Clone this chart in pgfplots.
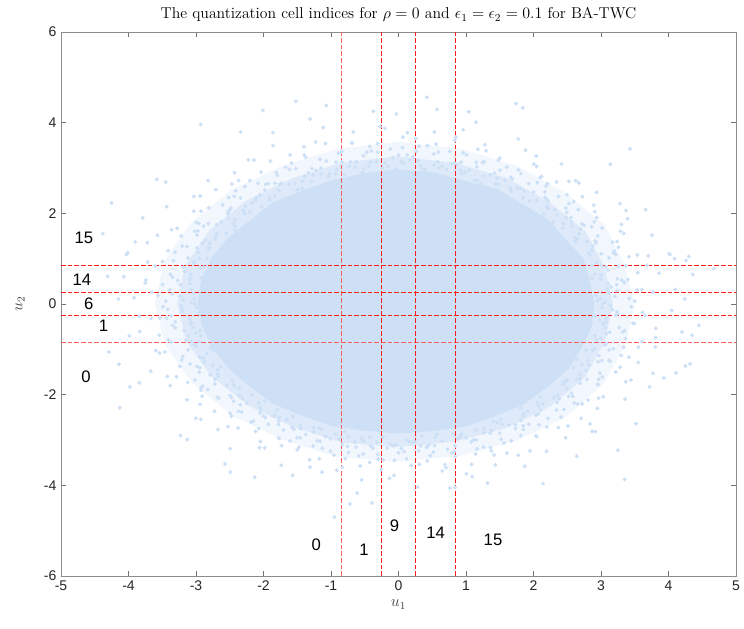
\documentclass[border=0pt]{standalone}
\usepackage{fontspec}
\usepackage{pgfplots}
\pgfplotsset{compat=1.18}
\newfontfamily\sans{Liberation Sans}
\definecolor{cloud}{RGB}{205,224,246}
\definecolor{qred}{RGB}{255,25,25}
\definecolor{qpink}{RGB}{255,95,95}
\begin{document}
\begin{tikzpicture}
\begin{axis}[
  scale only axis, width=506.25pt, height=408pt,
  xmin=-5, xmax=5, ymin=-6, ymax=6,
  xtick={-5,-4,...,5}, ytick={-6,-4,...,6},
  tick align=inside, major tick length=3.5pt,
  axis line style={draw=black!45, line width=0.6pt},
  major tick style={draw=black!55, line width=0.6pt},
  /pgf/number format/assume math mode=true,
  ticklabel style={font=\sans\fontsize{10.5}{12}\selectfont, text=black!85},
  title={The quantization cell indices for $\rho = 0$ and $\epsilon_1 = \epsilon_2 = 0.1$ for BA-TWC},
  title style={font=\fontsize{11.8}{13}\selectfont, yshift=-2pt},
  xlabel={$u_1$}, ylabel={$u_2$},
  label style={font=\fontsize{12}{14}\selectfont, text=black!75},
  ylabel style={yshift=7.5pt},
  clip=true,
  unbounded coords=jump,
  cloudpts/.style={only marks, mark=*, mark size=1.3pt, draw=cloud, fill=cloud, mark options={draw=cloud, fill=cloud}},
]
% outer halo of the sample cloud
\addplot[draw=none, fill=cloud, fill opacity=0.25, data cs=polar] coordinates {
 (0,3.50) (15,3.46) (30,3.52) (45,3.48) (60,3.52) (75,3.55) (90,3.58) (105,3.54) (120,3.50) (135,3.53)
 (150,3.56) (165,3.60) (180,3.61) (195,3.57) (210,3.52) (225,3.48) (240,3.46) (255,3.49) (270,3.48)
 (285,3.47) (300,3.49) (315,3.52) (330,3.51) (345,3.48)} -- cycle;
\addplot[draw=none, fill=cloud, fill opacity=0.55, data cs=polar] coordinates {
 (0,3.18) (15,3.16) (30,3.20) (45,3.17) (60,3.21) (75,3.22) (90,3.26) (105,3.23) (120,3.19) (135,3.21)
 (150,3.24) (165,3.27) (180,3.28) (195,3.25) (210,3.20) (225,3.16) (240,3.14) (255,3.17) (270,3.16)
 (285,3.15) (300,3.17) (315,3.19) (330,3.20) (345,3.17)} -- cycle;
% dense core of the sample cloud
\addplot[draw=none, fill=cloud, data cs=polar] coordinates {
 (0,2.90) (10,2.88) (20,2.92) (30,2.86) (40,2.90) (50,2.87) (60,2.93) (70,2.89) (80,2.95) (90,2.97)
 (100,2.93) (110,2.90) (120,2.88) (130,2.91) (140,2.87) (150,2.92) (160,2.95) (170,2.97) (180,2.98)
 (190,2.95) (200,2.92) (210,2.89) (220,2.86) (230,2.88) (240,2.85) (250,2.87) (260,2.84) (270,2.86)
 (280,2.85) (290,2.88) (300,2.86) (310,2.89) (320,2.87) (330,2.90) (340,2.88) (350,2.91)} -- cycle;
% fringe samples (angle in degrees, radius)
\addplot[cloudpts, data cs=polar] coordinates {
 (0,3.02) (3,3.21) (6,3.11) (9,3.35) (12,3.07) (15,3.18) (18,3.28) (21,3.04) (24,3.15) (27,3.31) (30,3.09) (33,3.24)
 (36,3.02) (39,3.21) (42,3.11) (45,3.35) (48,3.07) (51,3.18) (54,3.28) (57,3.04) (60,3.15) (63,3.31) (66,3.09) (69,3.24)
 (72,3.02) (75,3.21) (78,3.11) (81,3.35) (84,3.07) (87,3.18) (90,3.28) (93,3.04) (96,3.15) (99,3.31) (102,3.09) (105,3.24)
 (108,3.02) (111,3.21) (114,3.11) (117,3.35) (120,3.07) (123,3.18) (126,3.28) (129,3.04) (132,3.15) (135,3.31) (138,3.09) (141,3.24)
 (144,3.02) (147,3.21) (150,3.11) (153,3.35) (156,3.07) (159,3.18) (162,3.28) (165,3.04) (168,3.15) (171,3.31) (174,3.09) (177,3.24)
 (180,3.02) (183,3.21) (186,3.11) (189,3.35) (192,3.07) (195,3.18) (198,3.28) (201,3.04) (204,3.15) (207,3.31) (210,3.09) (213,3.24)
 (216,3.02) (219,3.21) (222,3.11) (225,3.35) (228,3.07) (231,3.18) (234,3.28) (237,3.04) (240,3.15) (243,3.31) (246,3.09) (249,3.24)
 (252,3.02) (255,3.21) (258,3.11) (261,3.35) (264,3.07) (267,3.18) (270,3.28) (273,3.04) (276,3.15) (279,3.31) (282,3.09) (285,3.24)
 (288,3.02) (291,3.21) (294,3.11) (297,3.35) (300,3.07) (303,3.18) (306,3.28) (309,3.04) (312,3.15) (315,3.31) (318,3.09) (321,3.24)
 (324,3.02) (327,3.21) (330,3.11) (333,3.35) (336,3.07) (339,3.18) (342,3.28) (345,3.04) (348,3.15) (351,3.31) (354,3.09) (357,3.24)
 (1.5,2.95) (4.5,3.13) (7.5,3.26) (10.5,3.05) (13.5,3.19) (16.5,2.99) (19.5,3.38) (22.5,3.10) (25.5,3.23) (28.5,3.01) (31.5,3.16)
 (34.5,2.95) (37.5,3.13) (40.5,3.26) (43.5,3.05) (46.5,3.19) (49.5,2.99) (52.5,3.38) (55.5,3.10) (58.5,3.23) (61.5,3.01) (64.5,3.16)
 (67.5,2.95) (70.5,3.13) (73.5,3.26) (76.5,3.05) (79.5,3.19) (82.5,2.99) (85.5,3.38) (88.5,3.10) (91.5,3.23) (94.5,3.01) (97.5,3.16)
 (100.5,2.95) (103.5,3.13) (106.5,3.26) (109.5,3.05) (112.5,3.19) (115.5,2.99) (118.5,3.38) (121.5,3.10) (124.5,3.23) (127.5,3.01) (130.5,3.16)
 (133.5,2.95) (136.5,3.13) (139.5,3.26) (142.5,3.05) (145.5,3.19) (148.5,2.99) (151.5,3.38) (154.5,3.10) (157.5,3.23) (160.5,3.01) (163.5,3.16)
 (166.5,2.95) (169.5,3.13) (172.5,3.26) (175.5,3.05) (178.5,3.19) (181.5,2.99) (184.5,3.38) (187.5,3.10) (190.5,3.23) (193.5,3.01) (196.5,3.16)
 (199.5,2.95) (202.5,3.13) (205.5,3.26) (208.5,3.05) (211.5,3.19) (214.5,2.99) (217.5,3.38) (220.5,3.10) (223.5,3.23) (226.5,3.01) (229.5,3.16)
 (232.5,2.95) (235.5,3.13) (238.5,3.26) (241.5,3.05) (244.5,3.19) (247.5,2.99) (250.5,3.38) (253.5,3.10) (256.5,3.23) (259.5,3.01) (262.5,3.16)
 (265.5,2.95) (268.5,3.13) (271.5,3.26) (274.5,3.05) (277.5,3.19) (280.5,2.99) (283.5,3.38) (286.5,3.10) (289.5,3.23) (292.5,3.01) (295.5,3.16)
 (298.5,2.95) (301.5,3.13) (304.5,3.26) (307.5,3.05) (310.5,3.19) (313.5,2.99) (316.5,3.38) (319.5,3.10) (322.5,3.23) (325.5,3.01) (328.5,3.16)
 (331.5,2.95) (334.5,3.13) (337.5,3.26) (340.5,3.05) (343.5,3.19) (346.5,2.99) (349.5,3.38) (352.5,3.10) (355.5,3.23) (358.5,3.01)
 (0.75,3.06) (3.75,2.93) (6.75,3.17) (9.75,3.29) (12.75,2.98) (15.75,3.12) (18.75,3.40) (21.75,3.03) (24.75,3.22) (27.75,2.96) (30.75,3.33) (33.75,3.09) (36.75,3.19)
 (39.75,3.06) (42.75,2.93) (45.75,3.17) (48.75,3.29) (51.75,2.98) (54.75,3.12) (57.75,3.40) (60.75,3.03) (63.75,3.22) (66.75,2.96) (69.75,3.33) (72.75,3.09) (75.75,3.19)
 (78.75,3.06) (81.75,2.93) (84.75,3.17) (87.75,3.29) (90.75,2.98) (93.75,3.12) (96.75,3.40) (99.75,3.03) (102.75,3.22) (105.75,2.96) (108.75,3.33) (111.75,3.09) (114.75,3.19)
 (117.75,3.06) (120.75,2.93) (123.75,3.17) (126.75,3.29) (129.75,2.98) (132.75,3.12) (135.75,3.40) (138.75,3.03) (141.75,3.22) (144.75,2.96) (147.75,3.33) (150.75,3.09) (153.75,3.19)
 (156.75,3.06) (159.75,2.93) (162.75,3.17) (165.75,3.29) (168.75,2.98) (171.75,3.12) (174.75,3.40) (177.75,3.03) (180.75,3.22) (183.75,2.96) (186.75,3.33) (189.75,3.09) (192.75,3.19)
 (195.75,3.06) (198.75,2.93) (201.75,3.17) (204.75,3.29) (207.75,2.98) (210.75,3.12) (213.75,3.40) (216.75,3.03) (219.75,3.22) (222.75,2.96) (225.75,3.33) (228.75,3.09) (231.75,3.19)
 (234.75,3.06) (237.75,2.93) (240.75,3.17) (243.75,3.29) (246.75,2.98) (249.75,3.12) (252.75,3.40) (255.75,3.03) (258.75,3.22) (261.75,2.96) (264.75,3.33) (267.75,3.09) (270.75,3.19)
 (273.75,3.06) (276.75,2.93) (279.75,3.17) (282.75,3.29) (285.75,2.98) (288.75,3.12) (291.75,3.40) (294.75,3.03) (297.75,3.22) (300.75,2.96) (303.75,3.33) (306.75,3.09) (309.75,3.19)
 (312.75,3.06) (315.75,2.93) (318.75,3.17) (321.75,3.29) (324.75,2.98) (327.75,3.12) (330.75,3.40) (333.75,3.03) (336.75,3.22) (339.75,2.96) (342.75,3.33) (345.75,3.09) (348.75,3.19)
 (351.75,3.06) (354.75,2.93) (357.75,3.17)
 (2.25,3.00) (5.25,3.25) (8.25,3.14) (11.25,2.92) (14.25,3.36) (17.25,3.07) (20.25,3.20) (23.25,3.45) (26.25,3.11)
 (29.25,3.00) (32.25,3.25) (35.25,3.14) (38.25,2.92) (41.25,3.36) (44.25,3.07) (47.25,3.20) (50.25,3.45) (53.25,3.11)
 (56.25,3.00) (59.25,3.25) (62.25,3.14) (65.25,2.92) (68.25,3.36) (71.25,3.07) (74.25,3.20) (77.25,3.45) (80.25,3.11)
 (83.25,3.00) (86.25,3.25) (89.25,3.14) (92.25,2.92) (95.25,3.36) (98.25,3.07) (101.25,3.20) (104.25,3.45) (107.25,3.11)
 (110.25,3.00) (113.25,3.25) (116.25,3.14) (119.25,2.92) (122.25,3.36) (125.25,3.07) (128.25,3.20) (131.25,3.45) (134.25,3.11)
 (137.25,3.00) (140.25,3.25) (143.25,3.14) (146.25,2.92) (149.25,3.36) (152.25,3.07) (155.25,3.20) (158.25,3.45) (161.25,3.11)
 (164.25,3.00) (167.25,3.25) (170.25,3.14) (173.25,2.92) (176.25,3.36) (179.25,3.07) (182.25,3.20) (185.25,3.45) (188.25,3.11)
 (191.25,3.00) (194.25,3.25) (197.25,3.14) (200.25,2.92) (203.25,3.36) (206.25,3.07) (209.25,3.20) (212.25,3.45) (215.25,3.11)
 (218.25,3.00) (221.25,3.25) (224.25,3.14) (227.25,2.92) (230.25,3.36) (233.25,3.07) (236.25,3.20) (239.25,3.45) (242.25,3.11)
 (245.25,3.00) (248.25,3.25) (251.25,3.14) (254.25,2.92) (257.25,3.36) (260.25,3.07) (263.25,3.20) (266.25,3.45) (269.25,3.11)
 (272.25,3.00) (275.25,3.25) (278.25,3.14) (281.25,2.92) (284.25,3.36) (287.25,3.07) (290.25,3.20) (293.25,3.45) (296.25,3.11)
 (299.25,3.00) (302.25,3.25) (305.25,3.14) (308.25,2.92) (311.25,3.36) (314.25,3.07) (317.25,3.20) (320.25,3.45) (323.25,3.11)
 (326.25,3.00) (329.25,3.25) (332.25,3.14) (335.25,2.92) (338.25,3.36) (341.25,3.07) (344.25,3.20) (347.25,3.45) (350.25,3.11)
 (353.25,3.00) (356.25,3.25) (359.25,3.14)
 (2,3.42) (5,3.55) (8,3.38) (11,3.61) (14,3.47) (17,3.70) (20,3.40) (23,3.52) (26,3.66) (29,3.45)
 (32,3.42) (35,3.55) (38,3.38) (41,3.61) (44,3.47) (47,3.70) (50,3.40) (53,3.52) (56,3.66) (59,3.45)
 (62,3.42) (65,3.55) (68,3.38) (71,3.61) (74,3.47) (77,3.70) (80,3.40) (83,3.52) (86,3.66) (89,3.45)
 (92,3.42) (95,3.55) (98,3.38) (101,3.61) (104,3.47) (107,3.70) (110,3.40) (113,3.52) (116,3.66) (119,3.45)
 (122,3.42) (125,3.55) (128,3.38) (131,3.61) (134,3.47) (137,3.70) (140,3.40) (143,3.52) (146,3.66) (149,3.45)
 (152,3.42) (155,3.55) (158,3.38) (161,3.61) (164,3.47) (167,3.70) (170,3.40) (173,3.52) (176,3.66) (179,3.45)
 (182,3.42) (185,3.55) (188,3.38) (191,3.61) (194,3.47) (197,3.70) (200,3.40) (203,3.52) (206,3.66) (209,3.45)
 (212,3.42) (215,3.55) (218,3.38) (221,3.61) (224,3.47) (227,3.70) (230,3.40) (233,3.52) (236,3.66) (239,3.45)
 (242,3.42) (245,3.55) (248,3.38) (251,3.61) (254,3.47) (257,3.70) (260,3.40) (263,3.52) (266,3.66) (269,3.45)
 (272,3.42) (275,3.55) (278,3.38) (281,3.61) (284,3.47) (287,3.70) (290,3.40) (293,3.52) (296,3.66) (299,3.45)
 (302,3.42) (305,3.55) (308,3.38) (311,3.61) (314,3.47) (317,3.70) (320,3.40) (323,3.52) (326,3.66) (329,3.45)
 (332,3.42) (335,3.55) (338,3.38) (341,3.61) (344,3.47) (347,3.70) (350,3.40) (353,3.52) (356,3.66) (359,3.45)
 (1,3.50) (5,3.62) (9,3.44) (13,3.78) (17,3.57) (21,3.49) (25,3.68) (29,3.88)
 (33,3.50) (37,3.62) (41,3.44) (45,3.78) (49,3.57) (53,3.49) (57,3.68) (61,3.88)
 (65,3.50) (69,3.62) (73,3.44) (77,3.78) (81,3.57) (85,3.49) (89,3.68) (93,3.88)
 (97,3.50) (101,3.62) (105,3.44) (109,3.78) (113,3.57) (117,3.49) (121,3.68) (125,3.88)
 (129,3.50) (133,3.62) (137,3.44) (141,3.78) (145,3.57) (149,3.49) (153,3.68) (157,3.88)
 (161,3.50) (165,3.62) (169,3.44) (173,3.78) (177,3.57) (181,3.49) (185,3.68) (189,3.88)
 (193,3.50) (197,3.62) (201,3.44) (205,3.78) (209,3.57) (213,3.49) (217,3.68) (221,3.88)
 (225,3.50) (229,3.62) (233,3.44) (237,3.78) (241,3.57) (245,3.49) (249,3.68) (253,3.88)
 (257,3.50) (261,3.62) (265,3.44) (269,3.78) (273,3.57) (277,3.49) (281,3.68) (285,3.88)
 (289,3.50) (293,3.62) (297,3.44) (301,3.78) (305,3.57) (309,3.49) (313,3.68) (317,3.88)
 (321,3.50) (325,3.62) (329,3.44) (333,3.78) (337,3.57) (341,3.49) (345,3.68) (349,3.88)
 (353,3.50) (357,3.62)
 (4,3.78) (10,3.92) (16,3.85) (22,4.05) (28,3.74) (34,3.96) (40,3.83)
 (46,3.78) (52,3.92) (58,3.85) (64,4.05) (70,3.74) (76,3.96) (82,3.83)
 (88,3.78) (94,3.92) (100,3.85) (106,4.05) (112,3.74) (118,3.96) (124,3.83)
 (130,3.78) (136,3.92) (142,3.85) (148,4.05) (154,3.74) (160,3.96) (166,3.83)
 (172,3.78) (178,3.92) (184,3.85) (190,4.05) (196,3.74) (202,3.96) (208,3.83)
 (214,3.78) (220,3.92) (226,3.85) (232,4.05) (238,3.74) (244,3.96) (250,3.83)
 (256,3.78) (262,3.92) (268,3.85) (274,4.05) (280,3.74) (286,3.96) (292,3.83)
 (298,3.78) (304,3.92) (310,3.85) (316,4.05) (322,3.74) (328,3.96) (334,3.83)
 (340,3.78) (346,3.92) (352,3.85) (358,4.05)
};
% isolated outlying samples
\addplot[cloudpts] coordinates {
 (-1.52,4.47) (-2.01,4.27) (-2.93,3.96) (-4.25,2.23) (1.74,4.42) (1.84,4.33) (0.42,4.56) (-0.37,4.25)
 (-1.07,4.38) (-1.31,4.08) (-0.03,4.19) (0.57,4.29) (1.04,4.24) (1.15,4.01) (3.43,3.42) (3.14,3.08)
 (4.02,1.09) (4.30,1.05) (4.67,0.78) (-3.58,2.75) (-3.45,2.69) (-3.79,1.90) (-4.01,1.13) (-2.34,3.79) (-1.86,3.78)
 (-4.29,-1.06) (-4.13,-2.29) (-3.98,-1.83) (-3.23,-2.90) (-3.13,-2.99) (-2.57,-3.53) (-2.49,-3.71) (-2.13,-3.82)
 (-1.57,-3.78) (-0.95,-4.70) (-0.39,-4.39) (-0.72,-4.41) (-0.61,-4.17) (0.84,-4.05) (0.76,-4.06) (1.32,-3.95)
 (2.14,-3.96) (3.35,-3.87) (3.25,-3.23) (4.32,-1.32) (3.93,-1.63) (3.77,-1.53) (3.72,-1.83) (4.35,-0.69)
 (4.20,-0.62) (2.87,-2.81) (2.64,-3.36) (1.87,-3.58)
 (4.36,0.65) (4.26,0.96) (4.45,-0.47) (4.25,-1.37) (4.11,-1.52) (4.10,0.32) (4.24,0.11)
 (3.52,-2.64) (3.66,2.08) (3.37,2.06) (4.01,1.11) (4.09,1.00)
 (-4.38,1.55) (-4.31,0.61) (-4.14,-1.33) (-4.15,0.11) (-4.07,0.60) (-3.84,-1.74) (-3.90,1.37) (-4.03,1.09)
};
% quantization thresholds: outer pair (lighter) and the rest
\addplot[draw=qpink, line width=0.8pt, dash pattern=on 3.5pt off 1.5pt] coordinates {
 (-0.8416,-6) (-0.8416,6) (nan,nan) (-5,-0.8416) (5,-0.8416)};
\addplot[draw=qred, line width=0.8pt, dash pattern=on 3.5pt off 1.5pt] coordinates {
 (-0.2533,-6) (-0.2533,6) (nan,nan) (0.2533,-6) (0.2533,6) (nan,nan) (0.8416,-6) (0.8416,6) (nan,nan)
 (-5,-0.2533) (5,-0.2533) (nan,nan) (-5,0.2533) (5,0.2533) (nan,nan) (-5,0.8416) (5,0.8416)};
% cell indices
\begin{scope}[every node/.style={font=\sans\fontsize{12.5}{14}\selectfont, text=black}]
\node at (axis cs:-4.66,1.46) {15};
\node at (axis cs:-4.69,0.54) {14};
\node at (axis cs:-4.59,0.01) {6};
\node at (axis cs:-4.37,-0.47) {1};
\node at (axis cs:-4.63,-1.61) {0};
\node at (axis cs:-1.22,-5.31) {0};
\node at (axis cs:-0.51,-5.42) {1};
\node at (axis cs:-0.06,-4.90) {9};
\node at (axis cs:0.55,-5.05) {14};
\node at (axis cs:1.40,-5.21) {15};
\end{scope}
\end{axis}
\pgfresetboundingbox
\path ([shift={(-45.75pt,-39.75pt)}]current axis.south west) rectangle ([shift={(6pt,24pt)}]current axis.north east);
\end{tikzpicture}
\end{document}
